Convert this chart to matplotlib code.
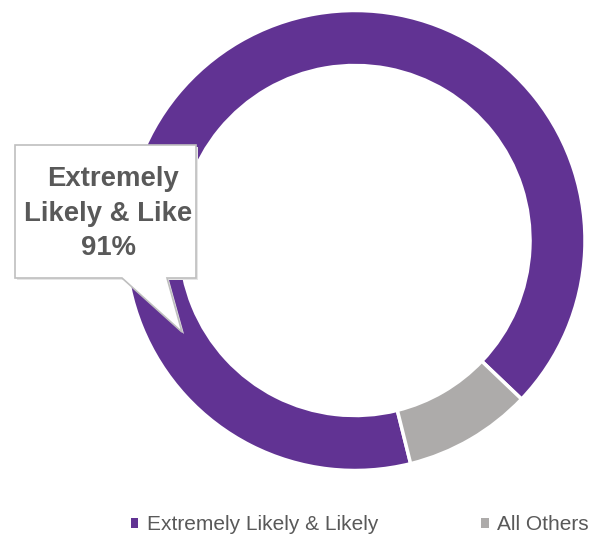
import matplotlib
matplotlib.use("Agg")
import matplotlib.pyplot as plt
from matplotlib.patches import Polygon, Patch
from matplotlib.transforms import Bbox, TransformedBbox

categories = ["Extremely Likely & Likely", "All Others"]
values = [91, 9]
colors = ["#613393", "#ADABAA"]
callout_lines = ["Extremely", "Likely & Likely", "91%"]

W, H = 605, 538
fig = plt.figure(figsize=(W / 100, H / 100), dpi=100)
ax = fig.add_axes([0, 0, 1, 1])
ax.set_axis_off()

def Y(y):
    return H - y

wedges, _ = ax.pie(values, colors=colors, startangle=-76, counterclock=False,
                   center=(355, Y(240.5)), radius=230,
                   wedgeprops=dict(width=55, edgecolor="white", linewidth=2.5))
ax.set_xlim(0, W)
ax.set_ylim(0, H)
ax.set_aspect("equal")

# callout
pts = [(15, 145), (196, 145), (196, 278), (167, 278), (182, 332), (122, 278), (15, 278)]
shadow = Polygon([(x + 2, Y(y + 2)) for x, y in pts], closed=True,
                 facecolor="#E6E6E6", edgecolor="none", zorder=4)
ax.add_patch(shadow)
box = Polygon([(x, Y(y)) for x, y in pts], closed=True,
              facecolor="white", edgecolor="#BFBFBF", linewidth=1.2, zorder=5)
ax.add_patch(box)
tprops = dict(fontsize=19.8, fontweight="bold", color="#595959",
              family="Liberation Sans", zorder=6, va="center")
ax.text(113, Y(179), callout_lines[0], ha="center", **tprops)
t2 = ax.text(24, Y(214), callout_lines[1], ha="left", clip_on=True, **tprops)
t2.set_clip_path(None)
t2.set_clip_box(TransformedBbox(Bbox([[15, Y(278)], [193.5, Y(145)]]), ax.transData))
ax.text(109, Y(248), callout_lines[2], ha="center", **tprops)

handles = [Patch(facecolor=c, edgecolor="none") for c in colors]
leg = ax.legend(handles, categories, loc="center left",
                bbox_to_anchor=(112 / W, 1 - 525 / H), ncol=2, frameon=False,
                handlelength=0.35, handleheight=0.35, handletextpad=0.42,
                columnspacing=4.95,
                prop=dict(family="Liberation Sans", size=15))
for t in leg.get_texts():
    t.set_color("#595959")

fig.savefig("out.png", dpi=100)
